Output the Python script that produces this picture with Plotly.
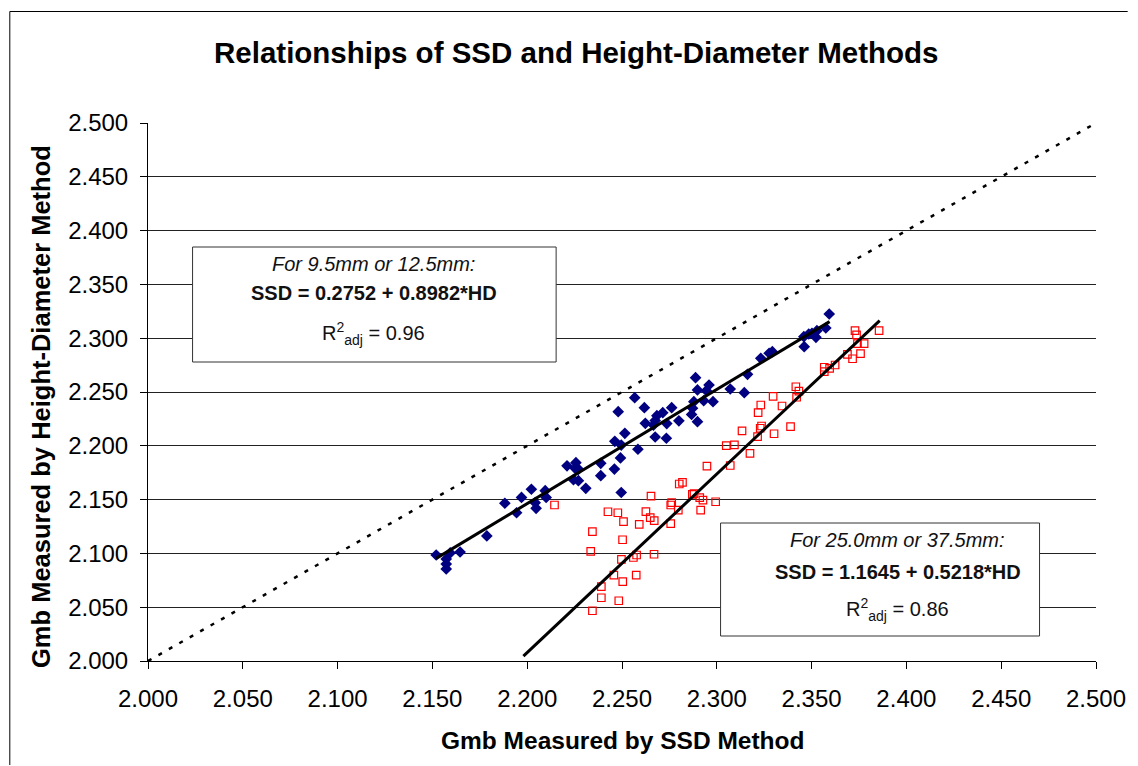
import plotly.graph_objects as go

# ---- data ----
blue_x = [2.1520, 2.1573, 2.1573, 2.1573, 2.1594, 2.1646, 2.1787, 2.1882, 2.1944, 2.1970,
          2.2022, 2.2042, 2.2047, 2.2095, 2.2100, 2.2210, 2.2257, 2.2253, 2.2271, 2.2244,
          2.2270, 2.2309, 2.2388, 2.2388, 2.2460, 2.2462, 2.2492, 2.2496, 2.2515, 2.2496,
          2.2480, 2.2567, 2.2584, 2.2618, 2.2623, 2.2675, 2.2666, 2.2675, 2.2684, 2.2715,
          2.2736, 2.2734, 2.2762, 2.2800, 2.2867, 2.2872, 2.2879, 2.2898, 2.2888, 2.2898,
          2.2931, 2.2945, 2.2959, 2.2980, 2.3071, 2.3145, 2.3162, 2.3232, 2.3276, 2.3293,
          2.3459, 2.3461, 2.3485, 2.3502, 2.3523, 2.3528, 2.3575, 2.3593]
blue_y = [2.0985, 2.0948, 2.0901, 2.0855, 2.1004, 2.1013, 2.1162, 2.1466, 2.1378, 2.1520,
          2.1596, 2.1471, 2.1419, 2.1583, 2.1520, 2.1814, 2.1843, 2.1791, 2.1782, 2.1685,
          2.1676, 2.1605, 2.1837, 2.1722, 2.1784, 2.2042, 2.1887, 2.1566, 2.2116, 2.2007,
          2.2317, 2.2447, 2.1968, 2.2354, 2.2209, 2.2082, 2.2193, 2.2235, 2.2280, 2.2308,
          2.2207, 2.2070, 2.2354, 2.2232, 2.2291, 2.2349, 2.2410, 2.2224, 2.2633, 2.2519,
          2.2419, 2.2512, 2.2565, 2.2410, 2.2528, 2.2494, 2.2664, 2.2813, 2.2860, 2.2875,
          2.3014, 2.2921, 2.3039, 2.3046, 2.3008, 2.3070, 2.3095, 2.3225]

red_x = [2.2144, 2.2344, 2.2335, 2.2344, 2.2391, 2.2391, 2.2426, 2.2478, 2.2508, 2.2503,
         2.2497, 2.2457, 2.2504, 2.2483, 2.2560, 2.2577, 2.2575, 2.2669, 2.2591, 2.2626,
         2.2649, 2.2670, 2.2653, 2.2757, 2.2757, 2.2762, 2.2797, 2.2802, 2.2819, 2.2871,
         2.2880, 2.2910, 2.2927, 2.2915, 2.2994, 2.2948, 2.3071, 2.3050, 2.3093, 2.3133,
         2.3175, 2.3215, 2.3229, 2.3236, 2.3302, 2.3389, 2.3218, 2.3232, 2.3297, 2.3344,
         2.3417, 2.3433, 2.3421, 2.3567, 2.3567, 2.3595, 2.3624, 2.3689, 2.3716, 2.3758,
         2.3729, 2.3737, 2.3742, 2.3777, 2.3856]
red_y = [2.1450, 2.1202, 2.1018, 2.0467, 2.0691, 2.0588, 2.1387, 2.1378, 2.1295, 2.1127,
         2.0945, 2.0799, 2.0737, 2.0560, 2.0962, 2.0985, 2.0799, 2.0992, 2.1270, 2.1388,
         2.1332, 2.1304, 2.1533, 2.1276, 2.1450, 2.1471, 2.1403, 2.1645, 2.1661, 2.1549,
         2.1555, 2.1518, 2.1496, 2.1403, 2.1480, 2.1812, 2.1817, 2.2001, 2.2009, 2.2139,
         2.1930, 2.2085, 2.2163, 2.2184, 2.2112, 2.2178, 2.2308, 2.2379, 2.2460, 2.2370,
         2.2549, 2.2509, 2.2451, 2.2730, 2.2689, 2.2720, 2.2751, 2.2849, 2.2809, 2.2856,
         2.3070, 2.3030, 2.2949, 2.2949, 2.3070]

# fitted trend lines as drawn (end points)
blue_fit_x = [2.1520, 2.3595]
blue_fit_y = [2.0954, 2.3154]
red_fit_x = [2.1980, 2.3859]
red_fit_y = [2.0046, 2.3163]

# line of equality
eq_x = [2.0, 2.5]
eq_y = [2.0, 2.5]

tick_vals = [2.0, 2.05, 2.1, 2.15, 2.2, 2.25, 2.3, 2.35, 2.4, 2.45, 2.5]
tick_text = ["2.000", "2.050", "2.100", "2.150", "2.200", "2.250",
             "2.300", "2.350", "2.400", "2.450", "2.500"]

title_text = "Relationships of SSD and Height-Diameter Methods"
x_title = "Gmb Measured by SSD Method"
y_title = "Gmb Measured by Height-Diameter Method"
box1_lines = ["<i>For 9.5mm or 12.5mm:</i>", "<b>SSD = 0.2752 + 0.8982*HD</b>",
              "R<sup>2</sup><sub>adj</sub> = 0.96"]
box2_lines = ["<i>For 25.0mm or 37.5mm:</i>", "<b>SSD = 1.1645 + 0.5218*HD</b>",
              "R<sup>2</sup><sub>adj</sub> = 0.86"]

FONT = "Liberation Sans, Arial, sans-serif"

fig = go.Figure()
fig.add_trace(go.Scatter(x=eq_x, y=eq_y, mode="lines",
                         line=dict(color="black", width=2.5, dash="4px,8px"),
                         hoverinfo="skip", showlegend=False))
fig.add_trace(go.Scatter(x=blue_x, y=blue_y, mode="markers",
                         marker=dict(symbol="diamond", size=9, color="#000080",
                                     line=dict(width=0)),
                         showlegend=False))
fig.add_trace(go.Scatter(x=red_x, y=red_y, mode="markers",
                         marker=dict(symbol="square-open", size=7.5, color="#FF0000",
                                     line=dict(width=1.2, color="#FF0000")),
                         showlegend=False))
fig.add_trace(go.Scatter(x=blue_fit_x, y=blue_fit_y, mode="lines",
                         line=dict(color="black", width=3), showlegend=False))
fig.add_trace(go.Scatter(x=red_fit_x, y=red_fit_y, mode="lines",
                         line=dict(color="black", width=3), showlegend=False))

axis_common = dict(range=[2.0, 2.5], tickvals=tick_vals, ticktext=tick_text,
                   ticks="outside", ticklen=7, tickcolor="black", tickwidth=1,
                   showline=True, linecolor="black", linewidth=1,
                   tickfont=dict(family=FONT, size=24, color="black"),
                   zeroline=False)

fig.update_xaxes(**axis_common, showgrid=False, ticklabelstandoff=9)
fig.update_yaxes(**axis_common, showgrid=True, gridcolor="#222222", gridwidth=1,
                 ticklabelstandoff=7)

W, H = 1138, 766
L, R, T, B = 148, 33, 123, 105
pw, ph = W - L - R, H - T - B


def px_x(p):
    return (p - L) / pw


def px_y(p):
    return (H - B - p) / ph


frame = dict(color="black", width=1)
shapes = [
    # outer chart frame (left and top edges, kept inside the page)
    dict(type="line", xref="paper", yref="paper",
         x0=px_x(8.5), x1=px_x(8.5), y0=px_y(765), y1=px_y(11.5), line=frame),
    dict(type="line", xref="paper", yref="paper",
         x0=px_x(8.5), x1=px_x(1137), y0=px_y(11.5), y1=px_y(11.5), line=frame),
    # text boxes
    dict(type="rect", xref="paper", yref="paper",
         x0=px_x(193), x1=px_x(560), y0=px_y(362), y1=px_y(247),
         line=dict(color="#333333", width=1), fillcolor="white", layer="above"),
    dict(type="rect", xref="paper", yref="paper",
         x0=px_x(726), x1=px_x(1048), y0=px_y(636), y1=px_y(523),
         line=dict(color="#333333", width=1), fillcolor="white", layer="above"),
]

annotations = [
    dict(text="<b>" + title_text + "</b>", xref="paper", yref="paper",
         x=px_x(580), y=px_y(53), xanchor="center", yanchor="middle", showarrow=False,
         font=dict(family=FONT, size=29.5, color="black")),
    dict(text="<b>" + x_title + "</b>", xref="paper", yref="paper",
         x=px_x(627), y=px_y(740), xanchor="center", yanchor="middle", showarrow=False,
         font=dict(family=FONT, size=24.5, color="black")),
    dict(text="<b>" + y_title + "</b>", xref="paper", yref="paper",
         x=px_x(40), y=px_y(407), xanchor="center", yanchor="middle", showarrow=False,
         textangle=-90, font=dict(family=FONT, size=25.5, color="black")),
]

box1_y = [264, 293, 333]
box2_y = [540, 572, 609]
for txt, yy in zip(box1_lines, box1_y):
    annotations.append(dict(text=txt, xref="paper", yref="paper", x=px_x(376), y=px_y(yy),
                            xanchor="center", yanchor="middle", showarrow=False,
                            font=dict(family=FONT, size=20, color="#111111")))
for txt, yy in zip(box2_lines, box2_y):
    annotations.append(dict(text=txt, xref="paper", yref="paper", x=px_x(905), y=px_y(yy),
                            xanchor="center", yanchor="middle", showarrow=False,
                            font=dict(family=FONT, size=20, color="#111111")))

fig.update_layout(width=W, height=H,
                  margin=dict(l=L, r=R, t=T, b=B, pad=0),
                  paper_bgcolor="white", plot_bgcolor="white",
                  shapes=shapes, annotations=annotations,
                  showlegend=False, font=dict(family=FONT))

fig.write_html("out.html")
